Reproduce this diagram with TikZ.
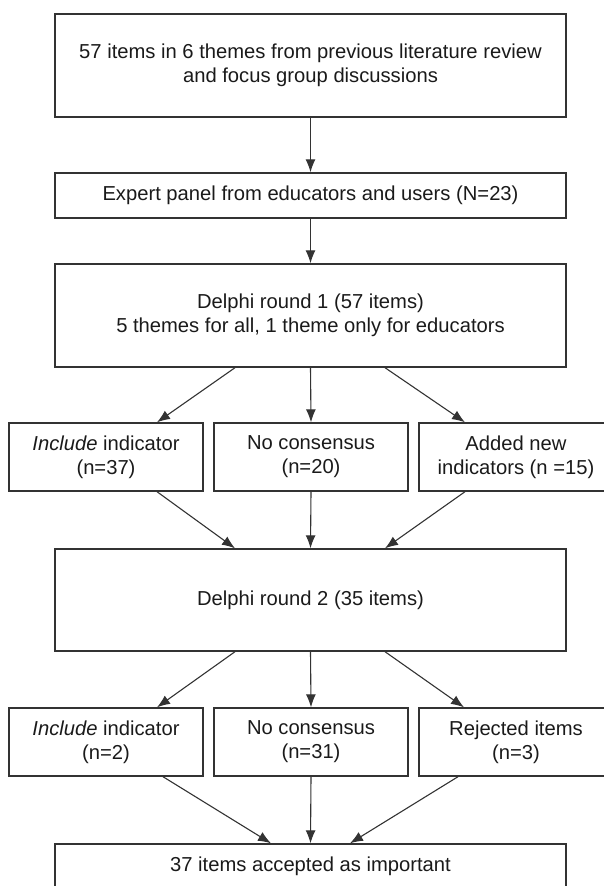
\documentclass[tikz,border=0pt]{standalone}
\usepackage{fontspec}
\setmainfont{Liberation Sans}
\usetikzlibrary{arrows.meta}
\definecolor{linec}{HTML}{333333}
\definecolor{textc}{HTML}{1A1A1A}
\begin{document}
\begin{tikzpicture}[x=1pt,y=-1pt,
  stagebox/.style={draw=linec, line width=1.4pt, rectangle, inner sep=0pt, align=center,
    text=textc, font=\fontsize{20.2}{24}\selectfont},
  wide/.style={stagebox, minimum width=511pt},
  small/.style={stagebox, minimum width=194pt, minimum height=68pt},
  conn/.style={draw=linec, line width=1.1pt, -{Latex[length=13pt,width=10pt]}}]
\useasboundingbox (0,0) rectangle (603,886);
\node[wide, minimum height=103pt] (top) at (310.5,65.5) {57 items in 6 themes from previous literature review\\and focus group discussions};
\node[wide, minimum height=45pt] (panel) at (310.5,195.5) {Expert panel from educators and users (N=23)};
\node[wide, minimum height=103pt] (r1) at (310.5,315.5) {Delphi round 1 (57 items)\\5 themes for all, 1 theme only for educators};
\node[small] (a1) at (106,457) {\textit{Include} indicator\\(n=37)};
\node[small] (b1) at (311,457) {No consensus\\(n=20)};
\node[small] (c1) at (516,457) {Added new\\indicators (n =15)};
\node[wide, minimum height=102pt] (r2) at (310.5,600) {Delphi round 2 (35 items)};
\node[small] (a2) at (106,742) {\textit{Include} indicator\\(n=2)};
\node[small] (b2) at (311,742) {No consensus\\(n=31)};
\node[small] (c2) at (516,742) {Rejected items\\(n=3)};
\node[wide, minimum height=45pt] (fin) at (310.5,866.5) {37 items accepted as important};
\draw[conn] (top.south) -- (panel.north);
\draw[conn] (panel.south) -- (r1.north);
\draw[conn] ([xshift=-75.5pt]r1.south) -- ([xshift=51pt]a1.north);
\draw[conn] (r1.south) -- (b1.north);
\draw[conn] ([xshift=74.5pt]r1.south) -- ([xshift=-51pt]c1.north);
\draw[conn] ([xshift=51pt]a1.south) -- ([xshift=-75.5pt]r2.north);
\draw[conn] (b1.south) -- (r2.north);
\draw[conn] ([xshift=-51pt]c1.south) -- ([xshift=74.5pt]r2.north);
\draw[conn] ([xshift=-75.5pt]r2.south) -- ([xshift=51pt]a2.north);
\draw[conn] (r2.south) -- (b2.north);
\draw[conn] ([xshift=74.5pt]r2.south) -- ([xshift=-52pt]c2.north);
\draw[conn] ([xshift=57pt]a2.south) -- ([xshift=-39.5pt]fin.north);
\draw[conn] (b2.south) -- (fin.north);
\draw[conn] ([xshift=-58pt]c2.south) -- ([xshift=39.5pt]fin.north);
\end{tikzpicture}
\end{document}
